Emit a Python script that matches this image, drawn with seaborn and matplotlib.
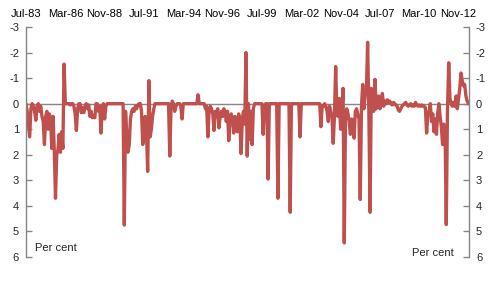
import numpy as np
import pandas as pd
import matplotlib
matplotlib.use("Agg")
import matplotlib.pyplot as plt
import seaborn as sns

# Monthly values, Jul-83 onward (one row = 12 months)
values = [
    0.0, 0.3, 0.8, 1.3, 0.2, 0.0, 0.1, 0.3, 0.65, 0.1, 0.0, 0.3,
    0.1, 0.5, 0.7, 1.6, 0.5, 0.3, 1.0, 0.4, 0.6, 1.75, 0.5, 1.8,
    3.7, 2.0, 1.8, 1.2, 1.9, 1.1, 1.75, -1.55, 0.0, 0.0, 0.0, 0.0,
    0.05, 0.0, 0.0, 0.1, 0.4, 1.05, 0.2, 0.0, 0.0, 0.35, 0.15, 0.35,
    0.1, 0.0, 0.2, 0.05, 0.5, 0.3, 0.55, 0.5, 0.55, 0.0, 0.0, 0.3,
    0.1, 1.15, 0.2, 0.0, 0.6, 0.1, 0.0, 0.0, 0.0, 0.0, 0.0, 0.0,
    0.0, 0.0, 0.0, 0.0, 0.0, 0.0, 0.0, 0.0, 4.75, 0.3, 1.2, 1.9,
    1.6, 0.6, 0.3, 0.2, 0.3, 0.1, 0.2, 0.05, 0.0, 0.0, 0.3, 1.6,
    1.2, 0.5, 1.0, 2.65, -0.9, 1.3, 1.0, 0.5, 0.2, 0.0, 0.0, 0.0,
    0.0, 0.0, 0.0, 0.0, 0.0, 0.0, 0.0, 0.0, 0.0, 2.05, 0.2, -0.1,
    0.0, 0.3, 0.1, 0.0, 0.0, 0.0, 0.1, 0.6, 0.0, 0.0, 0.0, 0.0,
    0.0, 0.0, 0.0, 0.0, 0.0, 0.0, 0.0, 0.0, -0.35, 0.0, 0.0, 0.0,
    0.0, 0.0, 0.2, 0.1, 1.3, 0.3, 0.1, 0.2, 0.4, 1.05, 0.3, 0.5,
    0.2, 0.95, 0.5, 0.3, 0.5, 0.2, 0.3, 0.7, 0.3, 1.45, 0.6, 0.4,
    0.6, 1.15, 0.5, 0.9, 1.1, 0.4, 0.6, 1.95, 0.6, 0.3, 0.8, -2.0,
    2.05, 0.0, 1.4, 0.3, 1.6, 0.2, 0.0, 0.0, 0.0, 0.0, 0.0, 0.0,
    0.0, 1.2, 0.1, 0.0, 0.0, 2.95, 0.0, 0.0, 0.0, 0.0, 0.0, 0.0,
    0.0, 3.7, 0.0, 0.0, 0.0, 0.0, 0.0, 0.0, 0.0, 0.0, 0.0, 4.25,
    0.0, 0.0, 0.0, 0.0, 0.0, 0.0, 0.0, 1.3, 0.0, 0.0, 0.0, 0.0,
    0.0, 0.0, 0.0, 0.0, 0.0, 0.0, 0.0, 0.0, 0.0, 0.0, 0.0, 0.0,
    0.9, 0.1, 0.1, 0.0, 0.1, 0.3, 0.7, 0.1, 0.3, 0.5, 1.55, 0.5,
    -1.45, 0.4, 0.5, -0.2, 1.0, 0.4, -0.6, 5.45, 0.5, 0.2, 0.4, 0.7,
    1.2, 0.6, 0.8, 1.35, 0.3, 0.2, 0.4, 0.6, 3.75, 0.1, -0.75, 0.2,
    -0.3, -0.5, -2.4, 0.3, 4.25, -0.6, 0.1, 0.3, -0.95, 0.2, 0.1, -0.3,
    0.2, 0.0, -0.4, 0.1, -0.1, 0.0, -0.15, -0.05, -0.1, 0.0, 0.05, -0.05,
    0.0, 0.05, 0.1, 0.25, 0.3, 0.2, 0.1, 0.05, 0.0, -0.05, 0.05, 0.1,
    0.05, 0.0, 0.1, 0.05, 0.1, -0.05, 0.05, 0.1, 0.05, 0.1, 0.05, 0.1,
    0.1, 0.15, 1.15, 0.4, 0.3, 0.0, 0.7, 0.4, 1.1, 0.6, 1.2, 0.4,
    0.0, 0.5, 0.9, 1.6, 0.8, 1.0, 4.73, 0.2, -1.6, -0.2, 0.0, 0.1,
    -0.05, 0.1, -0.3, 0.2, -0.2, -0.6, -1.2, -0.9, -0.7, -0.75, -0.3, -0.1,
    0.0,
]
xtick_labels = ["Jul-83", "Mar-86", "Nov-88", "Jul-91", "Mar-94", "Nov-96",
                "Jul-99", "Mar-02", "Nov-04", "Jul-07", "Mar-10", "Nov-12"]
ytick_values = [-3, -2, -1, 0, 1, 2, 3, 4, 5, 6]

df = pd.DataFrame({"month": np.arange(len(values)), "value": values})

sns.set_style("white")
plt.rcParams["font.family"] = ["Liberation Sans", "DejaVu Sans"]

fig = plt.figure(figsize=(4.95, 2.83), dpi=100)
ax = fig.add_axes([26 / 495, 1 - 257 / 283, (469 - 26) / 495, (257 - 27) / 283])

line_color = "#C0504D"
grey = "#868686"

ax.axhline(0, color=grey, lw=1.0, zorder=1)
sns.lineplot(data=df, x="month", y="value", ax=ax, color=line_color,
             lw=2.4, zorder=2)

ax.set_xlim(0, len(values) - 0.5)
ax.set_ylim(6, -3)
ax.set_yticks(ytick_values)
ax.set_yticklabels([str(v) for v in ytick_values])
ax.set_xticks(np.arange(len(xtick_labels)) * 32)
ax.set_xticklabels(xtick_labels)
ax.xaxis.tick_top()
ax.tick_params(axis="x", length=0, pad=6, labelsize=8, colors="black")
ax.tick_params(axis="y", direction="in", length=4, width=1, color=grey,
               labelsize=8, pad=5, left=True, right=True,
               labelleft=True, labelright=True)
ax.set_xlabel("")
ax.set_ylabel("")

for side in ["top", "bottom"]:
    ax.spines[side].set_visible(False)
for side in ["left", "right"]:
    ax.spines[side].set_visible(True)
    ax.spines[side].set_color(grey)
    ax.spines[side].set_linewidth(1)

fig.text(35 / 495, 1 - 248 / 283, "Per cent", fontsize=8, va="center", ha="left")
fig.text(454 / 495, 1 - 253 / 283, "Per cent", fontsize=8, va="center", ha="right")

fig.savefig("out.png", dpi=100, facecolor="white")
